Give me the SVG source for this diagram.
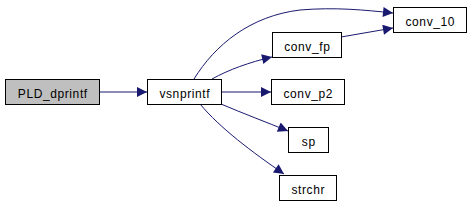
<svg xmlns="http://www.w3.org/2000/svg" width="471" height="203" viewBox="0 0 471 203">
<defs>
<marker id="ah" viewBox="0 0 10 10" refX="10" refY="5" markerWidth="14" markerHeight="10" markerUnits="userSpaceOnUse" orient="auto">
<path d="M0,0 L10,5 L0,10 z" fill="#191970"/>
</marker>
<style>
.n rect{fill:#fff;stroke:#000;stroke-width:1}
.n text{font-family:"Liberation Sans",Arial,sans-serif;font-size:12px;letter-spacing:0.6px;text-anchor:middle;fill:#000}
.e path{fill:none;stroke:#191970;stroke-width:1;marker-end:url(#ah)}
</style>
</defs>
<rect width="471" height="203" fill="#fff"/>
<g class="e">
<path d="M99.5,92 L147,92"/>
<path d="M194,79 C215,45 250,16 300,10 C335,7 365,10 393,13"/>
<path d="M341,37 L393,28"/>
<path d="M212,79 C228,70 250,62 272,57"/>
<path d="M221,92 L271,92"/>
<path d="M221,104 C242,113 266,122 288,131"/>
<path d="M200,104 C220,128 252,152 284,174"/>
</g>
<g id="PLD_dprintf" class="n"><rect x="5.5" y="79.5" width="94" height="25" style="fill:#bfbfbf"/><text x="52.8" y="97.5">PLD_dprintf</text></g>
<g id="vsnprintf" class="n"><rect x="147.5" y="79.5" width="74" height="25"/><text x="184.8" y="97.5">vsnprintf</text></g>
<g id="conv_10" class="n"><rect x="393.5" y="7.5" width="73" height="25"/><text x="430.3" y="25.5">conv_10</text></g>
<g id="conv_fp" class="n"><rect x="272.5" y="32.5" width="69" height="25"/><text x="307.3" y="50.5">conv_fp</text></g>
<g id="conv_p2" class="n"><rect x="271.5" y="79.5" width="73" height="25"/><text x="308.3" y="97.5">conv_p2</text></g>
<g id="sp" class="n"><rect x="288.5" y="127.5" width="40" height="25"/><text x="308.8" y="145.5">sp</text></g>
<g id="strchr" class="n"><rect x="279.5" y="175.5" width="57" height="25"/><text x="308.3" y="193.5">strchr</text></g>
</svg>
